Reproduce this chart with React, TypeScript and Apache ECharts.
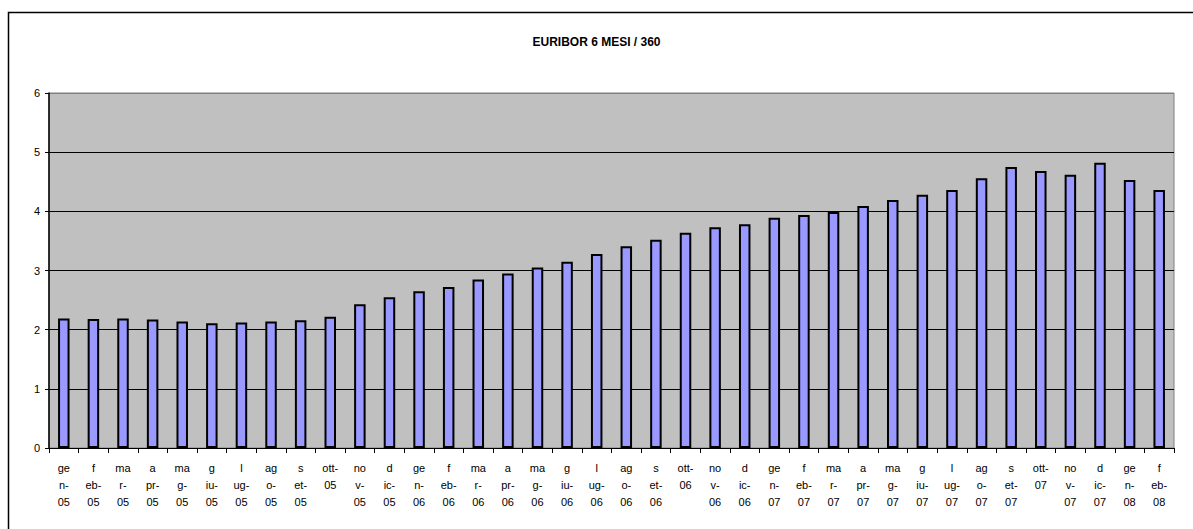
import React, { useEffect, useRef } from "react";
import * as echarts from "echarts";

const categories = [
  "gen-05", "feb-05", "mar-05", "apr-05", "mag-05", "giu-05", "lug-05", "ago-05", "set-05", "ott-05", "nov-05", "dic-05",
  "gen-06", "feb-06", "mar-06", "apr-06", "mag-06", "giu-06", "lug-06", "ago-06", "set-06", "ott-06", "nov-06", "dic-06",
  "gen-07", "feb-07", "mar-07", "apr-07", "mag-07", "giu-07", "lug-07", "ago-07", "set-07", "ott-07", "nov-07", "dic-07",
  "gen-08", "feb-08",
];

const tickLabels = [
  "ge\nn-\n05", "f\neb-\n05", "ma\nr-\n05", "a\npr-\n05", "ma\ng-\n05", "g\niu-\n05", "l\nug-\n05", "ag\no-\n05", "s\net-\n05", "ott-\n05\n ", "no\nv-\n05", "d\nic-\n05",
  "ge\nn-\n06", "f\neb-\n06", "ma\nr-\n06", "a\npr-\n06", "ma\ng-\n06", "g\niu-\n06", "l\nug-\n06", "ag\no-\n06", "s\net-\n06", "ott-\n06\n ", "no\nv-\n06", "d\nic-\n06",
  "ge\nn-\n07", "f\neb-\n07", "ma\nr-\n07", "a\npr-\n07", "ma\ng-\n07", "g\niu-\n07", "l\nug-\n07", "ag\no-\n07", "s\net-\n07", "ott-\n07\n ", "no\nv-\n07", "d\nic-\n07",
  "ge\nn-\n08", "f\neb-\n08",
];

const euribor6m = [
  2.19, 2.18, 2.19, 2.17, 2.14, 2.11, 2.12, 2.14, 2.16, 2.22, 2.43, 2.55,
  2.65, 2.72, 2.85, 2.95, 3.05, 3.15, 3.28, 3.41, 3.52, 3.64, 3.73, 3.78,
  3.89, 3.94, 3.99, 4.09, 4.19, 4.28, 4.36, 4.56, 4.75, 4.68, 4.62, 4.82,
  4.53, 4.36,
];

const yTicks = [0, 1, 2, 3, 4, 5, 6];

export default function App() {
  const ref = useRef<HTMLDivElement>(null);
  useEffect(() => {
    if (!ref.current) return;
    const chart = echarts.init(ref.current, null, { renderer: "svg" });
    const font = "'Liberation Sans', Arial, sans-serif";
    chart.setOption({
      animation: false,
      backgroundColor: "#ffffff",
      title: {
        text: "EURIBOR 6 MESI / 360",
        left: "center",
        top: 31,
        textStyle: { fontFamily: font, fontSize: 12, fontWeight: "bold", color: "#000" },
      },
      graphic: [
        {
          type: "rect",
          shape: { x: 8.5, y: 12.5, width: 1200, height: 530 },
          style: { fill: "none", stroke: "#000", lineWidth: 1.5 },
          silent: true,
          z: 100,
        },
      ],
      grid: {
        left: 49,
        right: 19,
        top: 93,
        bottom: 81,
        show: true,
        backgroundColor: "#c0c0c0",
        borderColor: "#808080",
        borderWidth: 1,
      },
      xAxis: {
        type: "category",
        data: categories,
        boundaryGap: true,
        axisLine: { show: true, lineStyle: { color: "#000", width: 1 } },
        axisTick: { show: true, length: 5, lineStyle: { color: "#000" } },
        axisLabel: {
          interval: 0,
          margin: 11,
          fontFamily: font,
          fontSize: 11,
          lineHeight: 17,
          color: "#000",
          align: "center",
          verticalAlign: "top",
          formatter: (_v: string, i: number) => tickLabels[i],
        },
        splitLine: { show: false },
      },
      yAxis: {
        type: "value",
        min: yTicks[0],
        max: yTicks[yTicks.length - 1],
        interval: 1,
        axisLine: { show: true, lineStyle: { color: "#000", width: 1.5 } },
        axisTick: { show: true, length: 4, lineStyle: { color: "#000" } },
        axisLabel: { margin: 9, fontFamily: font, fontSize: 11, color: "#000" },
        splitLine: {
          show: true,
          lineStyle: { color: ["#000", "#000", "#000", "#000", "#000", "#000", "#808080"], width: 1 },
        },
      },
      series: [
        {
          type: "bar",
          data: euribor6m,
          barWidth: 11.5,
          itemStyle: { color: "#9999ff", borderColor: "#000", borderWidth: 2 },
        },
      ],
    });
    return () => chart.dispose();
  }, []);
  return (
    <div
      ref={ref}
      style={{ position: "fixed", left: 0, top: 0, width: 1193, height: 529 }}
    />
  );
}
